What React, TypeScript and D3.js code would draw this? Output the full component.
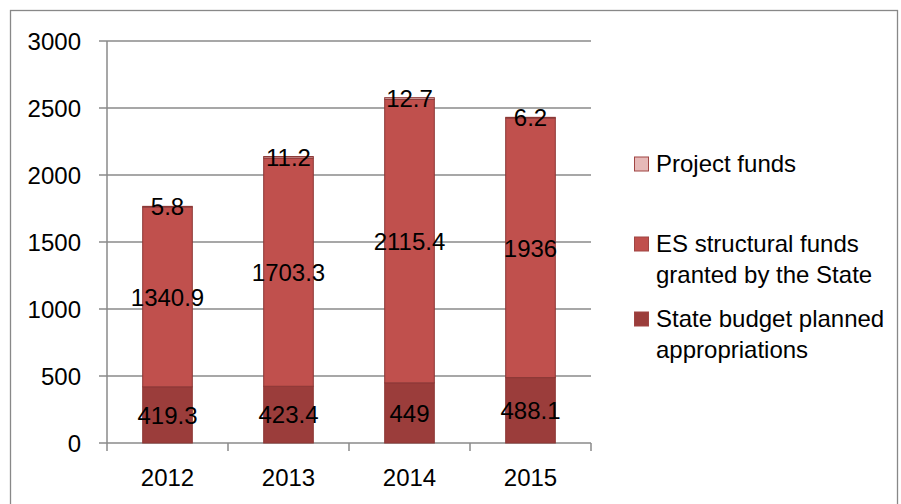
import { scaleLinear, scaleBand, stack } from "d3";

const years = ["2012", "2013", "2014", "2015"];
const stateBudget = [419.3, 423.4, 449, 488.1];
const esFunds = [1340.9, 1703.3, 2115.4, 1936];
const projectFunds = [5.8, 11.2, 12.7, 6.2];
const yTicks = [0, 500, 1000, 1500, 2000, 2500, 3000];

const seriesKeys = ["state", "es", "project"];
const seriesNames: { [k: string]: string[] } = {
  project: ["Project funds"],
  es: ["ES structural funds", "granted by the State"],
  state: ["State budget planned", "appropriations"],
};
const fills: { [k: string]: string } = {
  state: "#9B3D3B",
  es: "#C0504D",
  project: "#E6B9B8",
};

const W = 901;
const H = 504;
const margin = { top: 41, left: 107, right: 310, bottom: 61 };
const font = "'Liberation Sans', Arial, sans-serif";

const App = () => {
  const rows = years.map((y, i) => ({
    year: y,
    state: stateBudget[i],
    es: esFunds[i],
    project: projectFunds[i],
  }));

  const x = scaleBand()
    .domain(years)
    .range([margin.left, W - margin.right])
    .paddingInner(0.59)
    .paddingOuter(0.295);

  const y = scaleLinear()
    .domain([0, 3000])
    .range([H - margin.bottom, margin.top]);

  const stacked = stack<any>().keys(seriesKeys)(rows);

  const bandStep = x.step();
  const x0 = margin.left;
  const x1 = W - margin.right;
  const y0 = y(0);

  // legend rows (top to bottom)
  const legendOrder = ["project", "es", "state"];
  const legendBaseline: { [k: string]: number } = { project: 172, es: 252, state: 327 };

  return (
    <svg
      width={W}
      height={H}
      style={{ position: "absolute", left: 0, top: 0, background: "#fff" }}
      fontFamily={font}
    >
      <rect x={10.5} y={10.5} width={887} height={505} fill="#fff" stroke="#888" strokeWidth={1.3} />

      {/* gridlines + y ticks */}
      {yTicks.map((t) => (
        <g key={t}>
          <line x1={x0 - 8} x2={x1} y1={y(t)} y2={y(t)} stroke="#8a8a8a" strokeWidth={1.5} />
          <text x={81} y={y(t)} dy="0.36em" textAnchor="end" fontSize={24} fill="#000">
            {t}
          </text>
        </g>
      ))}
      <line x1={x0} x2={x0} y1={y(3000)} y2={y0} stroke="#8a8a8a" strokeWidth={1.5} />

      {/* x ticks */}
      {years.concat([""]).map((_, i) => (
        <line
          key={"xt" + i}
          x1={x0 + i * bandStep}
          x2={x0 + i * bandStep}
          y1={y0}
          y2={y0 + 8}
          stroke="#8a8a8a"
          strokeWidth={1.5}
        />
      ))}
      {years.map((yr) => (
        <text key={yr} x={x(yr)! + x.bandwidth() / 2} y={486} textAnchor="middle" fontSize={24}>
          {yr}
        </text>
      ))}

      {/* bars */}
      {stacked.map((s) =>
        s.map((d: any) => (
          <rect
            key={s.key + d.data.year}
            x={x(d.data.year)!}
            y={y(d[1])}
            width={x.bandwidth()}
            height={y(d[0]) - y(d[1])}
            fill={fills[s.key]}
            stroke="#8C3836"
            strokeWidth={1}
          />
        ))
      )}

      {/* data labels */}
      {stacked.map((s) =>
        s.map((d: any) => (
          <text
            key={"l" + s.key + d.data.year}
            x={x(d.data.year)! + x.bandwidth() / 2}
            y={(y(d[0]) + y(d[1])) / 2}
            dy="0.36em"
            textAnchor="middle"
            fontSize={24}
            fill="#000"
          >
            {d.data[s.key]}
          </text>
        ))
      )}

      {/* legend */}
      {legendOrder.map((k) => (
        <g key={"lg" + k}>
          <rect
            x={634.5}
            y={legendBaseline[k] - 15}
            width={14}
            height={14}
            fill={fills[k]}
            stroke="#A04543"
            strokeWidth={1}
          />
          {seriesNames[k].map((line, j) => (
            <text key={line} x={656} y={legendBaseline[k] + j * 31} fontSize={24} fill="#000">
              {line}
            </text>
          ))}
        </g>
      ))}
    </svg>
  );
};

export default App;
